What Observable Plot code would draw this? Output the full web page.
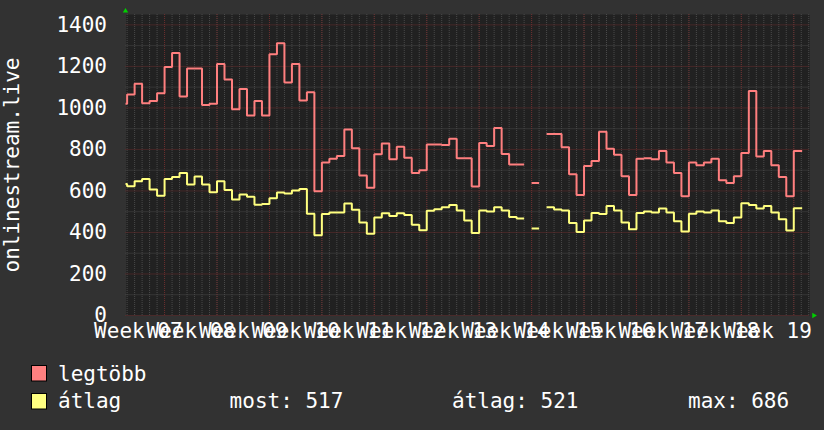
<!DOCTYPE html>
<html><head><meta charset="utf-8">
<script src="https://cdn.jsdelivr.net/npm/d3@7"></script>
<script src="https://cdn.jsdelivr.net/npm/@observablehq/plot@0.6"></script>
<style>
html,body{margin:0;padding:0;background:#323232;width:824px;height:430px;overflow:hidden;}
#chart svg,#legend svg{display:block}
</style></head><body>
<div id="chart"></div>
<div id="legend"></div>
<script>
// ---- data (one value per day, day index 0..90) ----
const seriesNames = ["legtöbb", "átlag"];
const maxValues = [
  1020,1065,1116,1023,1033,1071,1197,1264,1055,1190,
  1190,1014,1020,1211,1137,994,1091,964,1033,964,
  1258,1312,1123,1211,1036,1076,598,737,755,768,
  896,806,675,615,777,829,753,813,760,686,
  700,824,824,821,851,758,758,622,831,816,
  903,778,728,728,null,638,null,874,874,811,
  681,580,720,744,885,803,774,671,580,755,
  758,753,792,737,686,575,737,724,737,755,
  651,638,671,783,1081,766,792,724,667,575,
  792
];
const avgValues = [
  633,623,647,657,607,577,657,667,686,631,
  670,631,594,647,604,559,583,572,533,537,
  565,593,588,602,609,490,387,489,496,496,
  540,509,448,394,472,492,479,492,484,437,
  411,505,512,522,532,506,458,397,506,501,
  522,506,474,467,null,419,null,522,511,506,
  445,402,458,494,489,527,506,448,416,494,
  501,496,516,496,454,405,490,501,496,506,
  454,445,472,541,532,516,527,496,464,410,
  517
];
const dataEnd = 91.12;            // the last (current) sample ends here
const viewStart = 0.85, viewEnd = 92.14;
const weekLabels = ["Week 07","Week 08","Week 09","Week 10","Week 11","Week 12","Week 13",
                    "Week 14","Week 15","Week 16","Week 17","Week 18","Week 19"];
const firstWeekMidDay = 2.5;
const yTickValues = [0,200,400,600,800,1000,1200,1400];
const yMinorValues = [100,300,500,700,900,1100,1300];
const yTitle = "onlinestream.live";
const statLabels = ["most:", "átlag:", "max:"];
const statValues = [517, 521, 686];

const colors = ["#ff7f7f", "#ffff7f"];

// ---- derived ----
function steps(values, name) {
  const out = [];
  values.forEach((v, i) => {
    const end = i === values.length - 1 ? dataEnd : i + 1;
    if (v == null) { out.push({t: i, v: NaN, s: name}); return; }
    out.push({t: i, v, s: name}, {t: end, v, s: name});
  });
  return out;
}
const weekTicks = weekLabels.map((_, k) => firstWeekMidDay + 7 * k);
const majorDays = weekLabels.map((_, k) => firstWeekMidDay + 3.5 + 7 * k);
const minorDays = d3.range(Math.ceil(viewStart), Math.floor(viewEnd) + 1);

const W = 824, H = 350, bottomY = 315;
const minorGrid = {stroke: "#4a4a4a", strokeDasharray: "1,1"};
const majorGrid = {stroke: "#6a2d2d", strokeDasharray: "1,1"};
const chart = Plot.plot({
  width: W, height: H,
  marginLeft: 125.5, marginRight: 14.7, marginTop: 14, marginBottom: H - bottomY,
  x: {domain: [viewStart, viewEnd], axis: null, label: null},
  y: {domain: [0, 1450], axis: null, label: null},
  style: {background: "transparent", fontFamily: "'DejaVu Sans Mono', monospace", fontSize: "21px", color: "#ffffff"},
  marks: [
    Plot.frame({fill: "#212121", stroke: null}),
    Plot.ruleX(minorDays, minorGrid),
    Plot.ruleY(yMinorValues, minorGrid),
    Plot.ruleX(majorDays, majorGrid),
    Plot.ruleY(yTickValues, majorGrid),
    Plot.line(steps(maxValues, seriesNames[0]), {x: "t", y: "v", stroke: colors[0], strokeWidth: 2, strokeLinejoin: "miter", strokeLinecap: "butt", clip: true}),
    Plot.line(steps(avgValues, seriesNames[1]), {x: "t", y: "v", stroke: colors[1], strokeWidth: 2, strokeLinejoin: "miter", strokeLinecap: "butt", clip: true}),
    Plot.axisY({ticks: yTickValues, tickSize: 0, tickPadding: 19, fontSize: 21, label: null, tickFormat: d => String(d)}),
    Plot.axisX({ticks: weekTicks, tickSize: 0, tickPadding: 8, fontSize: 21, label: null,
      tickFormat: d => weekLabels[Math.round((d - firstWeekMidDay) / 7)]}),
    Plot.text([yTitle], {frameAnchor: "left", textAnchor: "middle", rotate: -90, lineAnchor: "bottom", dx: -107, fontSize: 21, fill: "#ffffff"}),
    Plot.dot([0], {frameAnchor: "top-left", symbol: "triangle", r: 2, fill: "#00d000", stroke: null, dx: -0.5, dy: -3.5}),
    Plot.dot([0], {frameAnchor: "bottom-right", symbol: "triangle", r: 2, fill: "#00d000", stroke: null, rotate: 90, dx: 4})
  ]
});
document.getElementById("chart").appendChild(chart);

// ---- legend (below the chart) ----
const lg = d3.select("#legend").append("svg").attr("width", W).attr("height", 430 - H)
  .style("font-family", "'DejaVu Sans Mono', monospace").style("font-size", "21px");
const rows = [{y: 15.5, base: 31}, {y: 43.5, base: 58}];
seriesNames.forEach((name, i) => {
  lg.append("rect").attr("x", 31.5).attr("y", rows[i].y).attr("width", 15).attr("height", 15.5)
    .attr("fill", i === 0 ? "#ff8080" : "#ffff80").attr("stroke", "#000").attr("stroke-width", 1);
  lg.append("text").attr("x", 58).attr("y", rows[i].base).attr("fill", "#fff").text(name);
});
const statX = [229.6, 452, 688];
statLabels.forEach((lab, i) => {
  lg.append("text").attr("x", statX[i]).attr("y", rows[1].base).attr("fill", "#fff")
    .attr("xml:space", "preserve").text(lab + " " + statValues[i]);
});
</script>
</body></html>
